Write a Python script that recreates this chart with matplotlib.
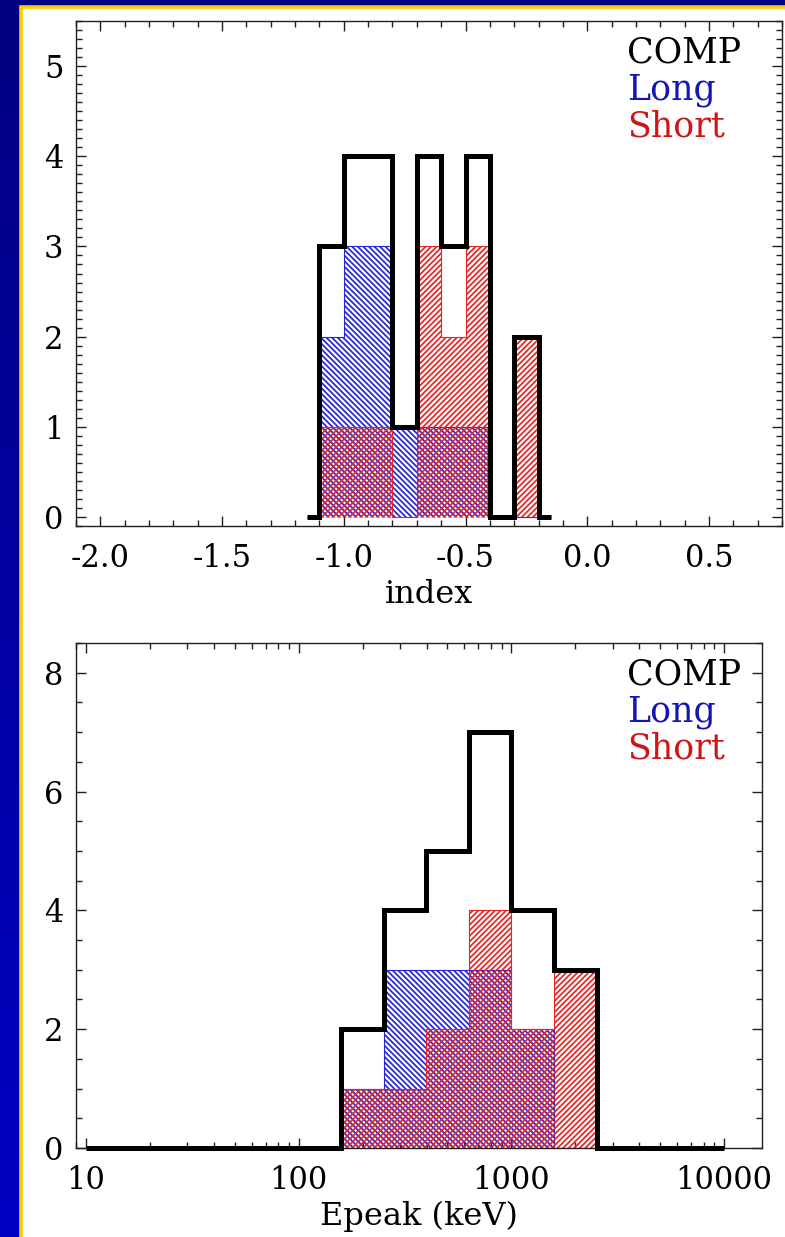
import numpy as np
import matplotlib
matplotlib.use('Agg')
import matplotlib.pyplot as plt
from matplotlib.patches import Rectangle
from matplotlib.colors import LinearSegmentedColormap
from matplotlib.ticker import MultipleLocator, FixedLocator, LogLocator, NullFormatter, FixedFormatter

# ---------------- data ----------------
index_edges = [-1.15, -1.1, -1.0, -0.9, -0.8, -0.7, -0.6, -0.5, -0.4, -0.3, -0.2, -0.15]
index_comp = [0, 3, 4, 4, 1, 4, 3, 4, 0, 2, 0]
index_long = [0, 2, 3, 3, 1, 1, 1, 1, 0, 0, 0]
index_short = [0, 1, 1, 1, 0, 3, 2, 3, 0, 2, 0]

epeak_log_edges = [1.0, 2.2, 2.4, 2.6, 2.8, 3.0, 3.2, 3.4, 4.0]
epeak_comp = [0, 2, 4, 5, 7, 4, 3, 0]
epeak_long = [0, 1, 3, 3, 3, 2, 0, 0]
epeak_short = [0, 1, 1, 2, 4, 2, 3, 0]

legend_labels = ['COMP', 'Long', 'Short']
index_xticks = [-2.0, -1.5, -1.0, -0.5, 0.0, 0.5]
index_yticks = [0, 1, 2, 3, 4, 5]
epeak_xticks = [10, 100, 1000, 10000]
epeak_yticks = [0, 2, 4, 6, 8]

# ---------------- style ----------------
plt.rcParams['font.family'] = ['DejaVu Serif']
plt.rcParams['axes.unicode_minus'] = False
plt.rcParams['hatch.linewidth'] = 1.25

W, H = 785, 1237
fig = plt.figure(figsize=(W / 100, H / 100), dpi=100)

# background gradient (slide)
bg = fig.add_axes([0, 0, 1, 1], zorder=-10)
grad = np.linspace(0, 1, 256)[:, None]
cmap = LinearSegmentedColormap.from_list('slide', ['#000082', '#0000C4'])
bg.imshow(grad, aspect='auto', cmap=cmap, extent=[0, 1, 0, 1], origin='upper')
bg.set_xlim(0, 1); bg.set_ylim(0, 1)
bg.axis('off')

panel = Rectangle((20.5 / W, -0.1), 1.2, (H - 7) / H + 0.1, transform=fig.transFigure,
                  facecolor='white', edgecolor='#FFCC00', linewidth=2.6, zorder=-5)
fig.add_artist(panel)

BLUE = '#2626D8'
RED = '#E52525'
TXT_BLUE = '#1515B5'
TXT_RED = '#D01515'


def style_axes(ax):
    ax.set_facecolor('white')
    for s in ax.spines.values():
        s.set_linewidth(1.0)
        s.set_color('#202020')
    ax.tick_params(which='both', direction='in', top=True, right=True, width=1.0, color='#202020')
    ax.tick_params(which='major', length=7, labelsize=22)
    ax.tick_params(which='minor', length=4)


def hatched(ax, values, edges, color, hatch):
    ax.stairs(values, edges, fill=True, facecolor='none', edgecolor=color,
              hatch=hatch, linewidth=0.8, baseline=0, zorder=2)


# ---------------- top panel ----------------
ax1 = fig.add_axes([76 / W, (H - 526) / H, (782 - 76) / W, (526 - 21) / H])
style_axes(ax1)
hatched(ax1, index_long, index_edges, BLUE, '\\\\\\\\\\\\')
hatched(ax1, index_short, index_edges, RED, '//////')
ax1.stairs(index_comp, index_edges, color='black', linewidth=3.6, baseline=0,
           zorder=4, joinstyle='miter', clip_on=False)
ax1.set_xlim(-2.1, 0.8)
ax1.set_ylim(-0.1, 5.5)
ax1.xaxis.set_major_locator(FixedLocator(index_xticks))
ax1.xaxis.set_major_formatter(FixedFormatter([f'{v:.1f}' for v in index_xticks]))
ax1.xaxis.set_minor_locator(MultipleLocator(0.1))
ax1.yaxis.set_major_locator(FixedLocator(index_yticks))
ax1.yaxis.set_minor_locator(MultipleLocator(0.1))
ax1.tick_params(axis='x', which='major', pad=12)
ax1.tick_params(axis='y', which='major', pad=9)
ax1.set_xlabel('index', fontsize=23, labelpad=4)
for lab, col, yy in zip(legend_labels, ['black', TXT_BLUE, TXT_RED], [0.917, 0.845, 0.772]):
    ax1.text(0.780, yy, lab, color=col, fontsize=25, va='baseline', ha='left',
             transform=ax1.transAxes, zorder=5)

# ---------------- bottom panel ----------------
ax2 = fig.add_axes([76 / W, (H - 1148) / H, (762 - 76) / W, (1148 - 643) / H])
style_axes(ax2)
le = 10 ** np.asarray(epeak_log_edges)
hatched(ax2, epeak_long, le, BLUE, '\\\\\\\\\\\\')
hatched(ax2, epeak_short, le, RED, '//////')
ax2.stairs(epeak_comp, le, color='black', linewidth=3.6, baseline=0,
           zorder=4, joinstyle='miter', clip_on=False)
ax2.set_xscale('log')
ax2.set_xlim(10 ** 0.953, 10 ** 4.178)
ax2.set_ylim(0, 8.5)
ax2.xaxis.set_major_locator(FixedLocator(epeak_xticks))
ax2.xaxis.set_major_formatter(FixedFormatter([str(v) for v in epeak_xticks]))
ax2.xaxis.set_minor_locator(LogLocator(base=10, subs=np.arange(2, 10)))
ax2.xaxis.set_minor_formatter(NullFormatter())
ax2.yaxis.set_major_locator(FixedLocator(epeak_yticks))
ax2.yaxis.set_minor_locator(MultipleLocator(0.5))
ax2.tick_params(axis='x', which='major', pad=12)
ax2.tick_params(axis='y', which='major', pad=9)
ax2.set_xlabel('Epeak (keV)', fontsize=23, labelpad=4)
for lab, col, yy in zip(legend_labels, ['black', TXT_BLUE, TXT_RED], [0.917, 0.844, 0.772]):
    ax2.text(0.803, yy, lab, color=col, fontsize=25, va='baseline', ha='left',
             transform=ax2.transAxes, zorder=5)

fig.savefig('out.png', dpi=100)
